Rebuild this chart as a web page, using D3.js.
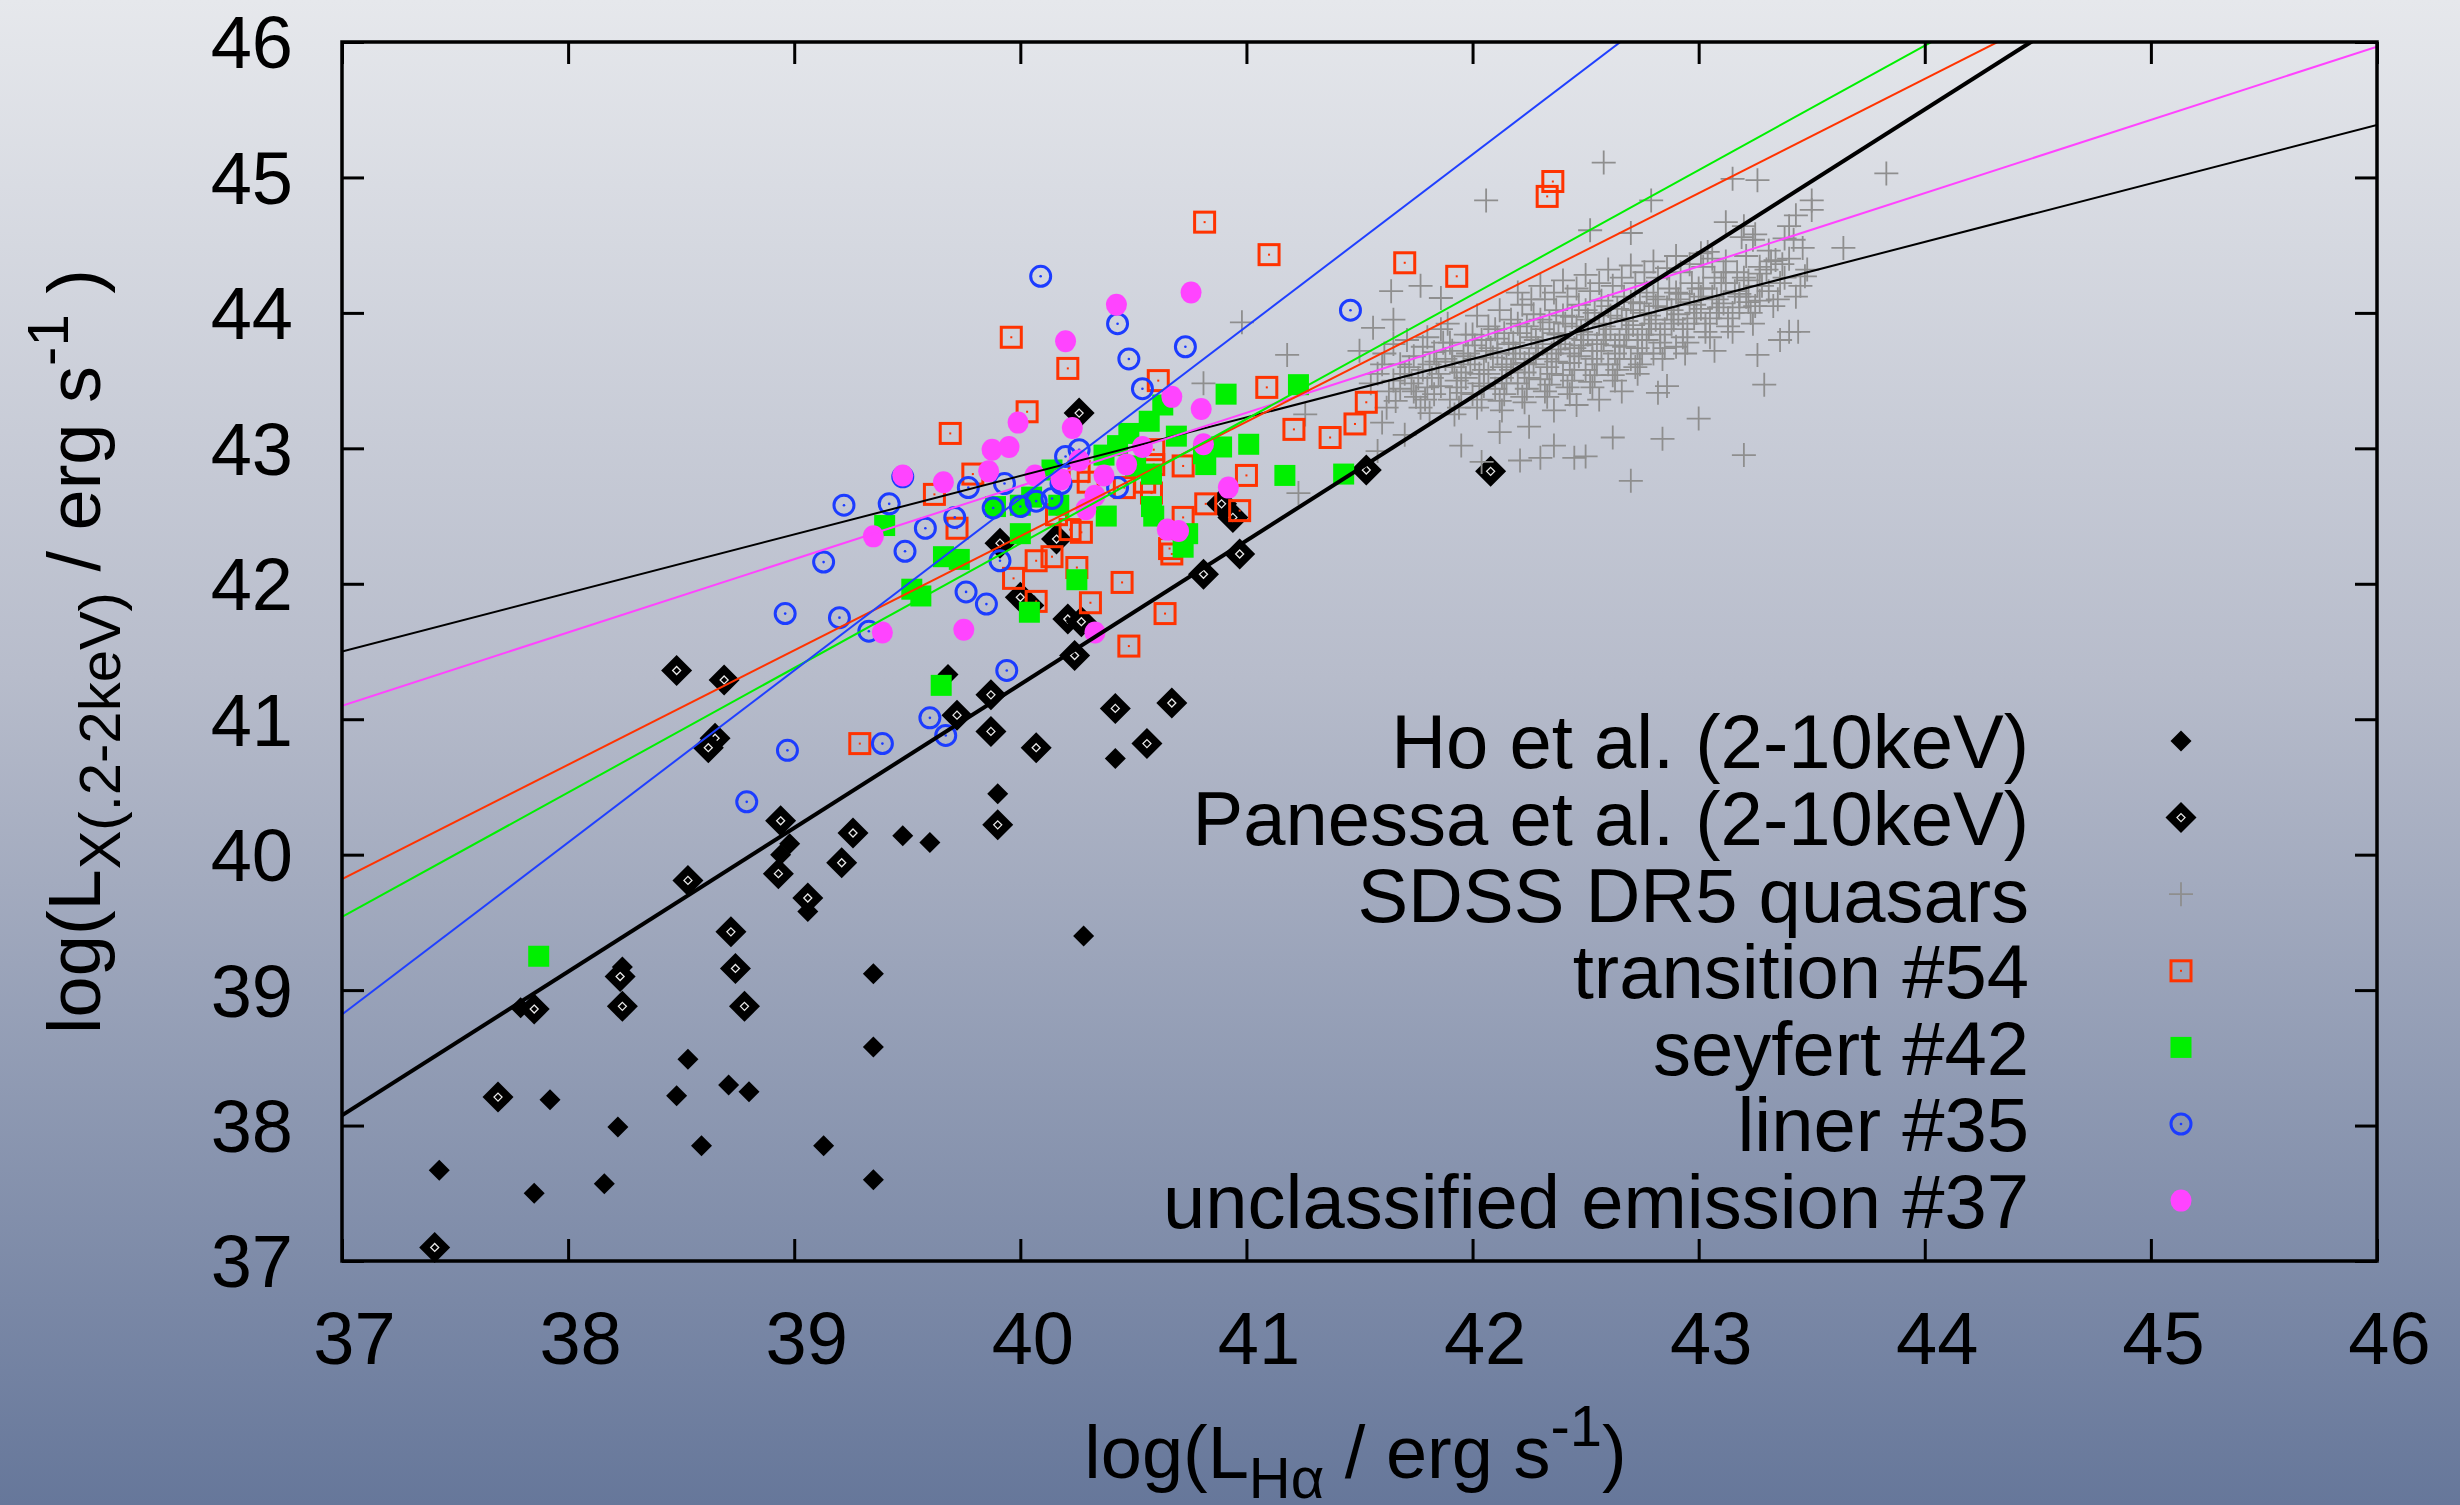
<!DOCTYPE html>
<html>
<head>
<meta charset="utf-8">
<script src="https://cdnjs.cloudflare.com/ajax/libs/d3/7.8.5/d3.min.js"></script>
<style>
html, body { margin: 0; padding: 0; overflow: hidden; }
svg { display: block; font-family: "Liberation Sans", Arial, Helvetica, sans-serif; }
</style>
</head>
<body>
<div id="chart"></div>
<script>
// tick values for both axes
const xTicks = [37, 38, 39, 40, 41, 42, 43, 44, 45, 46];
const yTicks = [37, 38, 39, 40, 41, 42, 43, 44, 45, 46];

const legendLabels = ['Ho et al. (2-10keV)', 'Panessa et al. (2-10keV)', 'SDSS DR5 quasars',
    'transition #54', 'seyfert #42', 'liner #35', 'unclassified emission #37'];

// [log L_Halpha, log L_X]
const hoPoints = [[37.43,37.67],[37.85,37.50],[37.92,38.19],[38.16,37.57],[38.22,37.99],[38.48,38.22],
    [38.53,38.49],[38.59,37.85],[38.71,38.30],[38.80,38.25],[39.13,37.85],[39.35,39.12],[39.35,38.58],
    [39.35,37.60],[39.48,40.14],[39.60,40.09],[39.90,40.45],[40.28,39.40],[40.42,40.71],[37.79,38.87],
    [38.24,39.17],[38.98,40.08],[38.94,40.00],[39.06,39.58],[39.68,41.33],[40.06,41.84]];

const panessaPoints = [[37.41,37.10],[37.69,38.21],[37.85,38.86],[38.23,39.10],[38.24,38.88],[38.48,41.36],
    [38.69,41.29],[38.65,40.86],[38.62,40.79],[38.53,39.81],[38.72,39.43],[38.74,39.16],[38.78,38.88],
    [38.93,39.86],[38.94,40.25],[39.06,39.68],[39.21,39.94],[39.26,40.16],[39.72,41.03],[39.87,41.18],
    [39.87,40.91],[39.90,40.22],[39.91,42.30],[40.00,41.90],[40.07,40.79],[40.16,42.33],[40.21,41.74],
    [40.27,41.72],[40.24,41.47],[40.26,43.26],[40.42,41.08],[40.56,40.82],[40.67,41.12],[40.81,42.07],
    [40.89,42.59],[40.94,42.49],[40.97,42.22],[41.53,42.84],[42.08,42.83]];

const sdssPoints = [
    // scattered crosses
    [42.58,45.11],[43.83,45.03],[42.06,44.83],[43.26,44.98],[43.15,44.99],[42.79,44.83],[43.50,44.83],
    [43.50,44.76],[43.43,44.72],[42.52,44.61],[42.70,44.59],[43.12,44.67],[43.20,44.64],[43.25,44.58],
    [43.40,44.64],[43.38,44.55],[43.46,44.48],[43.64,44.48],[43.34,44.39],[43.47,44.27],[43.27,44.29],
    [43.18,44.12],[43.27,44.09],[43.40,43.86],[43.44,43.86],[43.36,43.80],[43.26,43.69],[43.29,43.47],
    [43.07,43.72],[43.00,43.22],[43.20,42.95],[42.86,43.46],[42.82,43.41],[42.70,42.76],[42.21,42.91],
    [42.30,42.93],[42.36,43.02],[42.45,42.93],[42.50,42.94],[41.95,43.02],[42.04,42.90],[42.25,43.16],
    [41.60,43.19],[41.23,42.67],[41.18,43.69],[41.64,44.16],[41.56,43.89],[41.65,43.95],[41.77,44.20],
    [41.86,44.11],[41.50,43.72],[40.98,43.93],[40.81,43.48],[41.65,43.77],[41.81,43.26],[43.01,44.44],
    [43.32,44.38],[43.24,44.54],[43.19,44.56],[43.42,44.54],[41.26,43.25],[42.62,43.08],[42.84,43.07],
    [41.70,43.10],[41.58,42.98],[42.12,43.12],
    // dense core
    [41.58,43.55],[41.63,43.42],[41.61,43.70],[41.66,43.35],[41.55,43.48],
    [41.68,43.62],[41.73,43.48],[41.71,43.80],[41.75,43.38],[41.70,43.55],[41.74,43.68],
    [41.78,43.58],[41.83,43.71],[41.80,43.45],[41.86,43.88],[41.82,43.52],[41.79,43.36],[41.84,43.64],
    [41.88,43.66],[41.93,43.50],[41.90,43.78],[41.95,43.41],[41.89,43.92],[41.92,43.60],[41.94,43.30],[41.91,43.72],
    [41.98,43.70],[42.03,43.55],[42.00,43.84],[42.05,43.46],[41.99,43.62],[42.02,43.98],[42.04,43.36],[42.01,43.76],[41.97,43.52],
    [42.08,43.74],[42.13,43.60],[42.10,43.88],[42.15,43.48],[42.09,43.67],[42.12,44.02],[42.14,43.40],[42.11,43.81],[42.07,43.55],[42.13,43.28],
    [42.18,43.78],[42.23,43.63],[42.20,43.92],[42.25,43.52],[42.19,43.70],[42.22,44.06],[42.24,43.44],[42.21,43.85],[42.17,43.58],[42.23,43.34],[42.20,44.15],
    [42.28,43.80],[42.33,43.66],[42.30,43.95],[42.35,43.55],[42.29,43.74],[42.32,44.10],[42.34,43.47],[42.31,43.88],[42.27,43.62],[42.33,43.38],[42.30,44.20],[42.36,43.28],
    [42.38,43.84],[42.43,43.70],[42.40,43.98],[42.45,43.58],[42.39,43.77],[42.42,44.12],[42.44,43.50],[42.41,43.92],[42.37,43.64],[42.43,43.40],[42.40,44.24],[42.46,43.32],
    [42.48,43.86],[42.53,43.72],[42.50,44.02],[42.55,43.62],[42.49,43.80],[42.52,44.16],[42.54,43.54],[42.51,43.95],[42.47,43.68],[42.53,43.45],[42.50,44.28],[42.56,43.36],
    [42.58,43.90],[42.63,43.76],[42.60,44.05],[42.65,43.66],[42.59,43.84],[42.62,44.20],[42.64,43.58],[42.61,43.98],[42.57,43.72],[42.63,43.50],[42.60,44.32],[42.66,43.42],
    [42.68,43.94],[42.73,43.80],[42.70,44.08],[42.75,43.70],[42.69,43.88],[42.72,44.22],[42.74,43.62],[42.71,44.02],[42.67,43.75],[42.73,43.55],[42.70,44.35],
    [42.78,43.98],[42.83,43.84],[42.80,44.12],[42.85,43.74],[42.79,43.92],[42.82,44.26],[42.84,43.66],[42.81,44.05],[42.77,43.80],[42.80,44.38],
    [42.88,44.02],[42.93,43.88],[42.90,44.15],[42.95,43.78],[42.89,43.95],[42.92,44.30],[42.94,43.70],[42.91,44.10],[42.90,44.42],
    [42.98,44.06],[43.03,43.92],[43.00,44.18],[43.05,43.82],[42.99,44.00],[43.02,44.34],[43.01,44.12],[43.04,44.45],
    [43.08,44.10],[43.13,43.96],[43.10,44.22],[43.15,43.86],[43.09,44.04],[43.12,44.38],[43.11,44.30],
    [43.18,44.14],[43.23,44.00],[43.20,44.26],[43.22,44.08],[43.21,44.42],[43.24,43.92],
    [43.28,44.20],[43.33,44.05],[43.30,44.32],[43.31,44.46],
    [43.38,44.26],[43.43,44.12],[43.40,44.40],
    // core, second pass between the first
    [41.60,43.62],[41.65,43.50],[41.68,43.44],[41.62,43.30],
    [41.72,43.60],[41.76,43.52],[41.74,43.42],[41.78,43.75],[41.77,43.30],
    [41.81,43.62],[41.85,43.55],[41.83,43.40],[41.87,43.78],[41.80,43.82],[41.86,43.46],
    [41.91,43.64],[41.95,43.56],[41.93,43.45],[41.97,43.84],[41.90,43.36],[41.96,43.68],[41.92,43.25],
    [42.01,43.66],[42.05,43.58],[42.03,43.48],[42.07,43.90],[42.00,43.40],[42.06,43.72],[42.02,43.30],[42.04,43.80],
    [42.11,43.70],[42.15,43.62],[42.13,43.52],[42.17,43.95],[42.10,43.44],[42.16,43.77],[42.12,43.35],[42.14,43.85],[42.18,43.66],
    [42.21,43.74],[42.25,43.66],[42.23,43.56],[42.27,43.99],[42.20,43.48],[42.26,43.82],[42.22,43.38],[42.24,43.90],[42.28,43.70],[42.26,44.10],
    [42.31,43.77],[42.35,43.70],[42.33,43.60],[42.37,44.02],[42.30,43.51],[42.36,43.85],[42.32,43.42],[42.34,43.93],[42.38,43.73],[42.36,44.15],
    [42.41,43.81],[42.45,43.74],[42.43,43.63],[42.47,44.06],[42.40,43.54],[42.46,43.90],[42.42,43.45],[42.44,43.97],[42.48,43.76],[42.46,44.18],
    [42.51,43.84],[42.55,43.77],[42.53,43.66],[42.57,44.09],[42.50,43.58],[42.56,43.92],[42.52,43.49],[42.54,44.00],[42.58,43.80],[42.56,44.22],
    [42.61,43.88],[42.65,43.80],[42.63,43.70],[42.67,44.12],[42.60,43.62],[42.66,43.96],[42.62,43.54],[42.64,44.03],[42.68,43.84],[42.66,44.26],
    [42.71,43.91],[42.75,43.84],[42.73,43.74],[42.77,44.15],[42.70,43.66],[42.76,44.00],[42.72,43.60],[42.74,44.07],[42.78,43.88],[42.76,44.30],
    [42.81,43.95],[42.85,43.88],[42.83,43.78],[42.87,44.18],[42.80,43.70],[42.86,44.04],[42.82,44.10],[42.88,43.92],[42.86,44.33],
    [42.91,43.99],[42.95,43.92],[42.93,43.82],[42.97,44.22],[42.90,43.75],[42.96,44.08],[42.92,44.14],[42.98,43.96],[42.96,44.36],
    [43.01,44.03],[43.05,43.96],[43.03,43.86],[43.07,44.26],[43.06,44.12],[43.02,44.18],[43.08,44.00],[43.06,44.40],
    [43.11,44.07],[43.15,44.00],[43.13,43.90],[43.17,44.30],[43.16,44.16],[43.12,44.22],[43.18,44.04],
    [43.21,44.12],[43.25,44.05],[43.27,44.34],[43.26,44.20],[43.22,44.24],
    [43.31,44.16],[43.35,44.10],[43.37,44.36],[43.36,44.22],
    [43.45,44.20],[43.48,44.32]
];

const transitionPoints = [[42.355,44.97],[42.33,44.86],[40.815,44.67],[41.10,44.43],[41.70,44.37],[41.93,44.27],
    [39.96,43.82],[40.21,43.59],[40.61,43.50],[41.09,43.45],[41.53,43.34],[40.03,43.27],[41.48,43.18],
    [41.21,43.14],[39.69,43.11],[41.37,43.08],[41.00,42.80],[40.72,42.87],[39.62,42.66],[39.79,42.81],
    [39.72,42.41],[40.26,42.83],[40.30,42.75],[40.46,42.71],[40.55,42.75],[40.59,42.88],[40.58,42.67],
    [40.59,42.99],[40.82,42.59],[40.97,42.54],[40.72,42.49],[40.67,42.22],[40.66,42.26],[40.16,42.51],
    [40.22,42.40],[40.27,42.38],[40.14,42.20],[40.07,42.17],[40.25,42.12],[40.45,42.01],[39.97,42.04],
    [40.07,41.87],[40.31,41.86],[40.64,41.78],[40.48,41.54],[39.29,40.82]];

const seyfertPoints = [[37.87,39.25],[39.40,42.43],[39.52,41.96],[39.56,41.91],[39.65,41.25],[39.66,42.20],
    [39.73,42.18],[39.89,42.57],[40.00,42.58],[40.00,42.37],[40.04,41.79],[40.05,42.64],[40.14,42.84],
    [40.17,42.58],[40.25,42.03],[40.37,42.95],[40.38,42.50],[40.43,43.02],[40.48,43.11],[40.51,42.87],
    [40.57,43.20],[40.58,42.57],[40.59,42.50],[40.63,43.32],[40.69,43.09],[40.72,42.27],[40.74,42.37],
    [40.81,42.96],[40.82,42.88],[40.89,43.01],[40.91,43.40],[41.01,43.03],[41.17,42.80],[41.23,43.47],
    [41.43,42.81],[40.58,42.81]];

const linerPoints = [[40.09,44.27],[40.43,43.92],[40.73,43.75],[40.48,43.66],[40.54,43.44],[40.20,42.94],
    [40.26,42.99],[39.93,42.74],[39.77,42.71],[39.48,42.79],[39.22,42.58],[39.42,42.59],[39.71,42.49],
    [39.58,42.41],[39.88,42.56],[40.00,42.57],[40.07,42.61],[40.14,42.63],[40.18,42.74],[40.43,42.71],
    [39.49,42.24],[39.13,42.16],[39.91,42.17],[38.96,41.78],[39.20,41.75],[39.33,41.65],[39.76,41.94],
    [39.85,41.85],[39.94,41.36],[39.60,41.01],[39.67,40.88],[39.39,40.82],[38.97,40.77],[41.46,44.02],
    [38.79,40.39]];

const unclassifiedPoints = [[40.755,44.15],[40.425,44.06],[40.20,43.79],[40.67,43.38],[40.80,43.29],
    [39.99,43.19],[40.23,43.15],[39.875,42.99],[39.95,43.01],[40.54,43.01],[40.81,43.03],[39.48,42.80],
    [39.66,42.75],[39.86,42.83],[40.065,42.80],[40.18,42.77],[40.26,42.91],[40.37,42.80],[40.47,42.88],
    [40.33,42.65],[40.29,42.55],[40.92,42.71],[40.65,42.40],[40.70,42.39],[39.35,42.35],[39.39,41.64],
    [39.75,41.66],[40.33,41.64]];

// straight-line fits: value at log L_Halpha = 37, and slope
const fitAt37 = [41.50, 41.10, 39.82, 39.54, 38.82, 38.075];
const fitSlope = [0.432, 0.5406, 0.844, 0.919, 1.27, 1.061];

const width = 2460;
const height = 1505;
const margin = { top: 42, right: 83, bottom: 244, left: 342 };

const svg = d3.select('#chart')
    .append('svg')
    .attr('width', width)
    .attr('height', height);

// background gradient
const defs = svg.append('defs');
const grad = defs.append('linearGradient')
    .attr('id', 'bg')
    .attr('x1', 0).attr('y1', 0).attr('x2', 0).attr('y2', 1);
grad.append('stop').attr('offset', '0%').attr('stop-color', '#e6e8ec');
grad.append('stop').attr('offset', '45%').attr('stop-color', '#b7bccb');
grad.append('stop').attr('offset', '100%').attr('stop-color', '#66779a');
svg.append('rect')
    .attr('width', width).attr('height', height)
    .attr('fill', 'url(#bg)');

defs.append('clipPath').attr('id', 'plotclip')
    .append('rect')
    .attr('x', margin.left).attr('y', margin.top)
    .attr('width', width - margin.left - margin.right)
    .attr('height', height - margin.top - margin.bottom);

const x = d3.scaleLinear().domain([37, 46]).range([margin.left, width - margin.right]);
const y = d3.scaleLinear().domain([37, 46]).range([height - margin.bottom, margin.top]);

// marker shapes
const diamond = r => `M0,${-r}L${r},0L0,${r}L${-r},0Z`;
const cross = r => `M${-r},0H${r}M0,${-r}V${r}`;

function drawHo(g, px, py) {
    g.append('path').attr('transform', `translate(${px},${py})`)
        .attr('d', diamond(10.5)).attr('fill', '#000');
}
function drawPanessa(g, px, py) {
    const s = g.append('g').attr('transform', `translate(${px},${py})`);
    s.append('path').attr('d', diamond(15.5)).attr('fill', '#000');
    s.append('path').attr('d', diamond(4)).attr('fill', 'none')
        .attr('stroke', '#e8e8e8').attr('stroke-width', 1.3);
}
function drawSdss(g, px, py) {
    g.append('path').attr('transform', `translate(${px},${py})`)
        .attr('d', cross(12)).attr('stroke', '#8e8e8e').attr('stroke-width', 1.8).attr('fill', 'none');
}
function drawTransition(g, px, py) {
    const s = g.append('g').attr('transform', `translate(${px},${py})`);
    s.append('rect').attr('x', -10).attr('y', -10).attr('width', 20).attr('height', 20)
        .attr('fill', 'none').attr('stroke', '#ff3300').attr('stroke-width', 3);
    s.append('rect').attr('x', -1).attr('y', -1).attr('width', 2).attr('height', 2).attr('fill', '#ff3300');
}
function drawSeyfert(g, px, py) {
    g.append('rect').attr('x', px - 10.5).attr('y', py - 10.5)
        .attr('width', 21).attr('height', 21).attr('fill', '#00f000');
}
function drawLiner(g, px, py) {
    const s = g.append('g').attr('transform', `translate(${px},${py})`);
    s.append('circle').attr('r', 10).attr('fill', 'none')
        .attr('stroke', '#1c3cff').attr('stroke-width', 3);
    s.append('circle').attr('r', 1.3).attr('fill', '#1c3cff');
}
function drawUnclassified(g, px, py) {
    g.append('ellipse').attr('cx', px).attr('cy', py).attr('rx', 10.5).attr('ry', 11)
        .attr('fill', '#ff44ff');
}

const series = [
    { data: hoPoints, draw: drawHo },
    { data: panessaPoints, draw: drawPanessa },
    { data: sdssPoints, draw: drawSdss },
    { data: transitionPoints, draw: drawTransition },
    { data: seyfertPoints, draw: drawSeyfert },
    { data: linerPoints, draw: drawLiner },
    { data: unclassifiedPoints, draw: drawUnclassified }
];

const pointsLayer = svg.append('g');
series.forEach(s => {
    const g = pointsLayer.append('g');
    s.data.forEach(d => s.draw(g, x(d[0]), y(d[1])));
});

// fitted lines
const fitColors = ['#000000', '#ff44ff', '#ff3300', '#00f000', '#2040ff', '#000000'];
const fitWidths = [2, 2, 2, 2, 2, 4];
const line = d3.line().x(d => x(d[0])).y(d => y(d[1]));
const fitLayer = svg.append('g').attr('clip-path', 'url(#plotclip)');
fitAt37.forEach((a, i) => {
    const ends = [37, 46].map(v => [v, a + fitSlope[i] * (v - 37)]);
    fitLayer.append('path')
        .attr('d', line(ends))
        .attr('fill', 'none')
        .attr('stroke', fitColors[i])
        .attr('stroke-width', fitWidths[i]);
});

// axes, ticks point inward
const fontSize = 74;
const tickLen = 22;

const xAxis = svg.append('g')
    .attr('transform', `translate(0,${height - margin.bottom})`)
    .call(d3.axisBottom(x).tickValues(xTicks).tickSize(-tickLen).tickSizeOuter(0).tickPadding(50));
const yAxis = svg.append('g')
    .attr('transform', `translate(${margin.left},0)`)
    .call(d3.axisLeft(y).tickValues(yTicks).tickSize(-tickLen).tickSizeOuter(0).tickPadding(49));
svg.append('g')
    .attr('transform', `translate(0,${margin.top})`)
    .call(d3.axisTop(x).tickValues(xTicks).tickSize(-tickLen).tickSizeOuter(0).tickFormat(''));
svg.append('g')
    .attr('transform', `translate(${width - margin.right},0)`)
    .call(d3.axisRight(y).tickValues(yTicks).tickSize(-tickLen).tickSizeOuter(0).tickFormat(''));

svg.selectAll('.domain').remove();
svg.selectAll('.tick line').attr('stroke', '#000').attr('stroke-width', 3);
svg.selectAll('.tick text')
    .attr('fill', '#000')
    .style('font-size', fontSize + 'px')
    .style('font-family', '"Liberation Sans", Arial, Helvetica, sans-serif');
xAxis.selectAll('.tick text').attr('dx', 12);
yAxis.selectAll('.tick text').attr('dy', '0.35em');

// plot frame
svg.append('rect')
    .attr('x', margin.left).attr('y', margin.top)
    .attr('width', width - margin.left - margin.right)
    .attr('height', height - margin.top - margin.bottom)
    .attr('fill', 'none')
    .attr('stroke', '#000')
    .attr('stroke-width', 3.5);

// axis titles
const xTitle = svg.append('text')
    .attr('x', (margin.left + width - margin.right) / 2 - 4)
    .attr('y', 1478)
    .attr('text-anchor', 'middle')
    .style('font-size', fontSize + 'px');
xTitle.append('tspan').text('log(L');
xTitle.append('tspan').attr('dy', 20).style('font-size', '58px').text('Hα');
xTitle.append('tspan').attr('dy', -20).text(' / erg s');
xTitle.append('tspan').attr('dy', -32).style('font-size', '58px').text('-1');
xTitle.append('tspan').attr('dy', 32).text(')');

const yTitle = svg.append('text')
    .attr('transform', `translate(100,${(margin.top + height - margin.bottom) / 2}) rotate(-90)`)
    .attr('text-anchor', 'middle')
    .style('font-size', fontSize + 'px');
yTitle.append('tspan').text('log(L');
yTitle.append('tspan').attr('dy', 20).style('font-size', '58px').text('X(.2-2keV)');
yTitle.append('tspan').attr('dy', -20).text(' / erg s');
yTitle.append('tspan').attr('dy', -32).style('font-size', '58px').text('-1');
yTitle.append('tspan').attr('dy', 32).text(' )');

// legend
const legendX = 2029;
const legendSymX = 2181;
const legendY0 = 741;
const legendStep = 76.6;
const legend = svg.append('g');
legendLabels.forEach((label, i) => {
    const ly = legendY0 + i * legendStep;
    legend.append('text')
        .attr('x', legendX)
        .attr('y', ly)
        .attr('dy', '0.36em')
        .attr('text-anchor', 'end')
        .style('font-size', '76px')
        .text(label);
    series[i].draw(legend, legendSymX, ly);
});
</script>
</body>
</html>
